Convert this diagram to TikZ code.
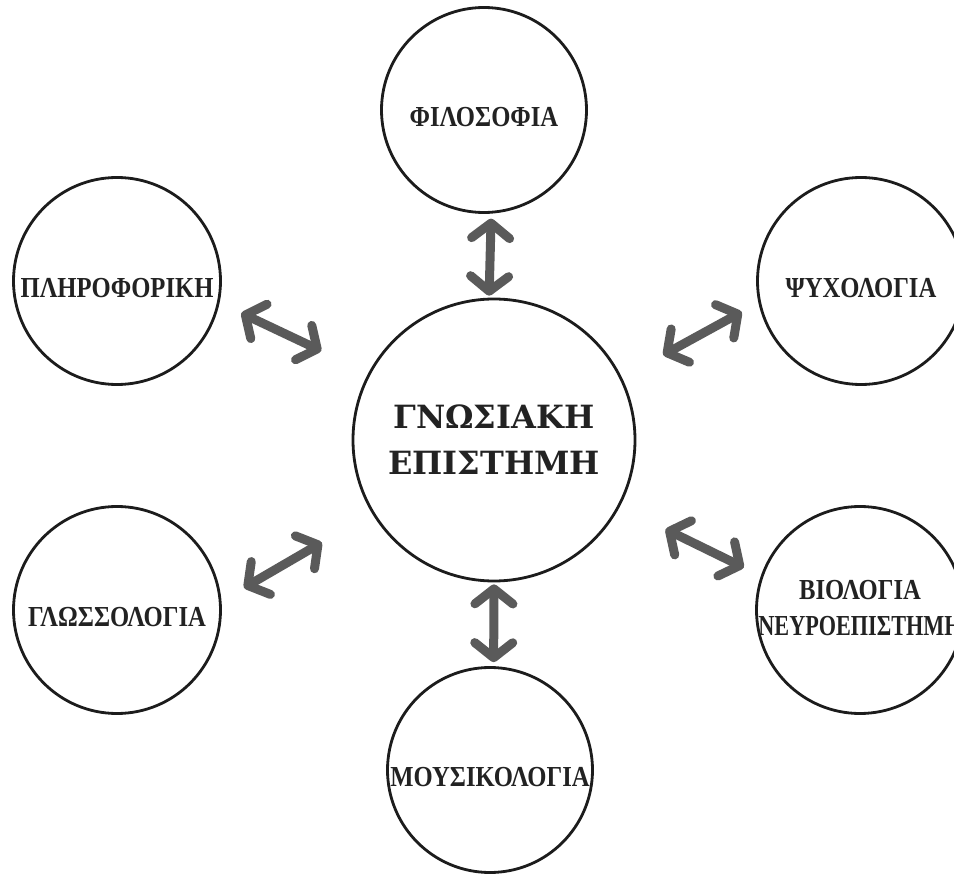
\documentclass[tikz,border=0pt]{standalone}
\usepackage{graphicx}
\usepackage{fontspec}
\setmainfont{Liberation Serif}[FakeStretch=0.85]
\newfontfamily\hubfont{DejaVu Serif}
\usetikzlibrary{arrows.meta}
\definecolor{ringcolor}{HTML}{1C1C1C}
\definecolor{inkcolor}{HTML}{222222}
\definecolor{arrowgray}{HTML}{5A5A5A}

\begin{document}
\begin{tikzpicture}[x=1pt,y=-1pt,
  topic/.style={circle, draw=ringcolor, line width=2.8pt, minimum size=207pt,
    inner sep=0pt, text=inkcolor, font=\bfseries\fontsize{29}{36}\selectfont},
  topicone/.style={topic, text height=33pt, text depth=0pt},
  hub/.style={topic, minimum size=282pt, align=center,
    font=\hubfont\bfseries\fontsize{32}{46}\selectfont},
  link/.style={draw=arrowgray, line width=9pt, <->,
    >={Straight Barb[round,length=15pt,width=38pt]}}]
%\draw[help lines] (0,0) grid[step=50] (954,874);
\useasboundingbox (0,0) rectangle (954,874);

 \node[hub] (cog) at (494,440) {ΓΝΩΣΙΑΚΗ\\ΕΠΙΣΤΗΜΗ};

 \node[topicone, minimum size=205pt] (phil) at (484,110) {ΦΙΛΟΣΟΦΙΑ};
 \node[topicone] (info) at (117,281) {ΠΛΗΡΟΦΟΡΙΚΗ};
 \node[topicone] (psych) at (861,281) {ΨΥΧΟΛΟΓΙΑ};
 \node[topicone] (ling) at (117,610) {ΓΛΩΣΣΟΛΟΓΙΑ};
 \node[topic] (bio) at (860,610)
   {\makebox[0pt]{\begin{tabular}{@{}c@{}}ΒΙΟΛΟΓΙΑ\\\scalebox{0.9}[1]{ΝΕΥΡΟΕΠΙΣΤΗΜΗ}\end{tabular}}};
 \node[topicone, minimum size=205pt] (music) at (490,770) {ΜΟΥΣΙΚΟΛΟΓΙΑ};

 % double arrows
 \draw[link, shorten <=5pt, shorten >=2pt] (phil.-86) -- (cog.92);
 \draw[link, shorten <=2pt, shorten >=4pt] (cog.-90.5) -- (music.88);
 \draw[link, shorten <=24pt, shorten >=52pt] (info.-12) -- (cog.152);
 \draw[link, shorten <=47pt, shorten >=19pt] (cog.26.6) -- (psych.-168.7);
 \draw[link, shorten <=51pt, shorten >=19pt] (cog.-28.3) -- (bio.161);
 \draw[link, shorten <=26pt, shorten >=58pt] (ling.5) -- (cog.-149.6);

\end{tikzpicture}
\end{document}
